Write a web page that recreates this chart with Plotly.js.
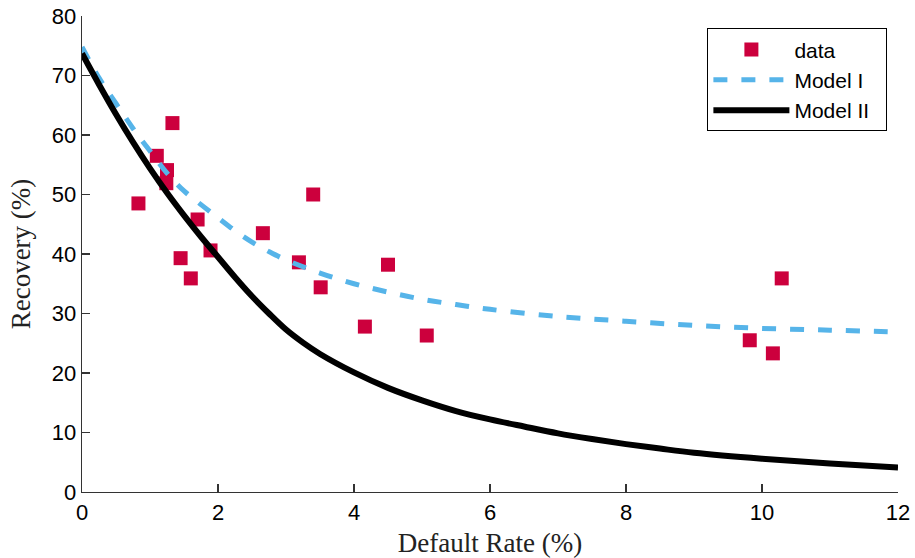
<!DOCTYPE html>
<html>
<head>
<meta charset="utf-8">
<script src="https://cdn.plot.ly/plotly-3.0.1.min.js"></script>
<style>
  html, body { margin: 0; padding: 0; background: #ffffff; }
  #chart { width: 915px; height: 558px; }
</style>
</head>
<body>
<div id="chart"></div>
<script>
// Observed data points: default rate (%) and recovery (%)
const dataDefault = [0.83, 1.10, 1.25, 1.24, 1.33, 1.45, 1.60, 1.70, 1.89, 2.66, 3.19, 3.40, 3.51, 4.16, 4.50, 5.07, 9.82, 10.16, 10.29];
const dataRecovery = [48.5, 56.5, 54.1, 51.9, 62.0, 39.3, 35.9, 45.8, 40.6, 43.5, 38.6, 50.0, 34.4, 27.8, 38.2, 26.3, 25.5, 23.3, 35.9];

// Model I curve
const model1X = [0, 0.25, 0.5, 0.75, 1, 1.25, 1.5, 1.75, 2, 2.25, 2.5, 2.75, 3, 3.5, 4, 4.5, 5, 5.5, 6, 7, 8, 9, 10, 11, 12];
const model1Y = [74.8, 69.6, 65.3, 61.1, 57.3, 53.6, 50.6, 48.3, 46.1, 43.9, 42.0, 40.4, 39.0, 36.8, 35.0, 33.6, 32.4, 31.5, 30.7, 29.5, 28.7, 28.0, 27.5, 27.2, 26.9];

// Model II curve
const model2X = [0, 0.25, 0.5, 0.75, 1, 1.25, 1.5, 1.75, 2, 2.25, 2.5, 2.75, 3, 3.25, 3.5, 4, 4.5, 5, 5.5, 6, 6.5, 7, 7.5, 8, 8.5, 9, 10, 11, 12];
const model2Y = [73.7, 68.5, 63.5, 58.8, 54.4, 50.3, 46.5, 42.9, 39.5, 36.1, 32.9, 30.0, 27.3, 25.1, 23.2, 20.1, 17.5, 15.4, 13.6, 12.2, 11.0, 9.85, 8.9, 8.05, 7.3, 6.6, 5.6, 4.8, 4.1];

const xTicks = [0, 2, 4, 6, 8, 10, 12];
const yTicks = [0, 10, 20, 30, 40, 50, 60, 70, 80];
const seriesNames = ['data', 'Model I', 'Model II'];

const sans = 'Liberation Sans, Arial, Helvetica, sans-serif';
const serif = 'Liberation Serif, Times New Roman, serif';
const pad = '\u00a0\u00a0';

const traces = [
  {
    x: dataDefault, y: dataRecovery, name: seriesNames[0] + pad,
    type: 'scatter', mode: 'markers',
    marker: { symbol: 'square', size: 14, color: 'rgb(204,0,61)' }
  },
  {
    x: model1X, y: model1Y, name: seriesNames[1] + pad,
    type: 'scatter', mode: 'lines',
    line: { shape: 'spline', smoothing: 1, color: 'rgb(86,180,233)', width: 5, dash: '14px,14px' }
  },
  {
    x: model2X, y: model2Y, name: seriesNames[2] + pad,
    type: 'scatter', mode: 'lines',
    line: { shape: 'spline', smoothing: 1, color: '#000000', width: 6 }
  }
];

const layout = {
  width: 915, height: 558,
  margin: { l: 82, r: 17, t: 16, b: 66 },
  paper_bgcolor: '#ffffff', plot_bgcolor: '#ffffff',
  showlegend: true,
  legend: {
    x: 0.987, y: 0.974, xanchor: 'right', yanchor: 'top',
    bordercolor: '#000000', borderwidth: 1, bgcolor: '#ffffff',
    font: { family: sans, size: 21, color: '#000' },
    itemwidth: 76, tracegroupgap: 0
  },
  xaxis: {
    range: [0, 12], tickvals: xTicks, ticktext: xTicks.map(String),
    ticks: 'inside', ticklen: 8, tickwidth: 1.2, tickcolor: '#333',
    showline: true, linecolor: '#333', linewidth: 1.3, mirror: false,
    showgrid: false, zeroline: false,
    tickfont: { family: sans, size: 22, color: '#000' },
    title: { text: 'Default Rate (%)', font: { family: serif, size: 27, color: '#222' }, standoff: 11 }
  },
  yaxis: {
    range: [0, 80], tickvals: yTicks, ticktext: yTicks.map(String),
    ticks: 'inside', ticklen: 8, tickwidth: 1.2, tickcolor: '#333',
    showline: true, linecolor: '#333', linewidth: 1.3, mirror: false,
    showgrid: false, zeroline: false,
    tickfont: { family: sans, size: 22, color: '#000' },
    title: { text: 'Recovery (%)', font: { family: serif, size: 27, color: '#222' }, standoff: 13 }
  }
};

Plotly.newPlot('chart', traces, layout, { staticPlot: true, displayModeBar: false });
</script>
</body>
</html>
